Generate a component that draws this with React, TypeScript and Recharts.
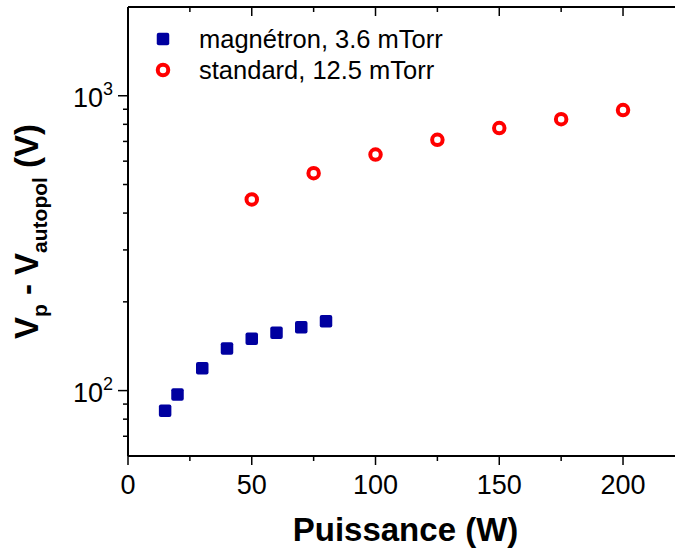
import { Legend, Scatter, ScatterChart, XAxis, YAxis } from "recharts"

const FONT = '"Liberation Sans", Arial, sans-serif'
const BLUE = "#0000A0"
const RED = "#FF0000"

// magnétron, 3.6 mTorr
const magnetronPower = [15, 20, 30, 40, 50, 60, 70, 80]
const magnetronVolts = [85.5, 97, 119, 139, 150, 157, 164, 172]

// standard, 12.5 mTorr
const standardPower = [50, 75, 100, 125, 150, 175, 200]
const standardVolts = [445, 546, 632, 709, 777, 833, 894]

const xTicks = [0, 25, 50, 75, 100, 125, 150, 175, 200]
const xLabelled = [0, 50, 100, 150, 200]
const yTicks = [70, 80, 90, 100, 200, 300, 400, 500, 600, 700, 800, 900, 1000]
const yExponents: Record<number, string> = { 100: "2", 1000: "3" }

const magnetronData = magnetronPower.map((p, i) => ({ power: p, v: magnetronVolts[i] }))
const standardData = standardPower.map((p, i) => ({ power: p, v: standardVolts[i] }))

function BottomTick({ x, y, payload }: any) {
  const major = xLabelled.includes(payload.value)
  return (
    <g>
      <line x1={x} x2={x} y1={y} y2={y + (major ? 9 : 5)} stroke="#000" strokeWidth={1.5} />
      {major && (
        <text x={x} y={y + 38} textAnchor="middle" fontSize={27} fontFamily={FONT} fill="#000">
          {payload.value}
        </text>
      )}
    </g>
  )
}

function TopTick({ x, y, payload }: any) {
  const major = xLabelled.includes(payload.value)
  return <line x1={x} x2={x} y1={y} y2={y + (major ? 9 : 5)} stroke="#000" strokeWidth={1.5} />
}

function LeftTick({ x, y, payload }: any) {
  const exp = yExponents[payload.value]
  return (
    <g>
      <line x1={x - (exp ? 10 : 5)} x2={x} y1={y} y2={y} stroke="#000" strokeWidth={1.5} />
      {exp && (
        <text x={x - 15} y={y + 11} textAnchor="end" fontSize={27} fontFamily={FONT} fill="#000">
          10
          <tspan fontSize={18} dy={-12}>{exp}</tspan>
        </text>
      )}
    </g>
  )
}

function Square({ cx, cy, fill }: any) {
  return <rect x={cx - 6.25} y={cy - 6.25} width={12.5} height={12.5} rx={2} fill={fill} />
}

function Ring({ cx, cy, stroke }: any) {
  return <circle cx={cx} cy={cy} r={5.25} fill="#fff" stroke={stroke} strokeWidth={4} />
}

function LegendBox({ payload }: any) {
  return (
    <svg width={675} height={100}>
      {(payload || []).map((entry: any, i: number) => {
        const cy = 39 + i * 31
        return (
          <g key={entry.value}>
            {entry.type === "square" ? (
              <Square cx={163} cy={cy} fill={entry.color} />
            ) : (
              <Ring cx={163} cy={cy} stroke={entry.color} />
            )}
            <text x={199} y={cy + 9} fontSize={25.5} fontFamily={FONT} fill="#000">
              {entry.value}
            </text>
          </g>
        )
      })}
    </svg>
  )
}

function YTitle({ viewBox }: any) {
  const cy = viewBox.y + viewBox.height / 2
  return (
    <text
      x={38}
      y={cy}
      transform={`rotate(-90, 38, ${cy})`}
      textAnchor="middle"
      fontSize={33}
      fontWeight="bold"
      fontFamily={FONT}
      fill="#000"
    >
      V<tspan fontSize={21} dy={9}>p</tspan>
      <tspan dy={-9}> - V</tspan>
      <tspan fontSize={21} dy={9}>autopol</tspan>
      <tspan dy={-9}> (V)</tspan>
    </text>
  )
}

function XTitle({ viewBox }: any) {
  return (
    <text
      x={viewBox.x + viewBox.width / 2 + 4}
      y={541}
      textAnchor="middle"
      fontSize={33}
      fontWeight="bold"
      fontFamily={FONT}
      fill="#000"
    >
      Puissance (W)
    </text>
  )
}

export default function App() {
  return (
    <div style={{ position: "absolute", left: 0, top: 0, background: "#fff" }}>
      <ScatterChart width={675} height={554} margin={{ top: 0, right: 0, bottom: 0, left: 0 }}>
        <XAxis
          xAxisId="bottom"
          type="number"
          dataKey="power"
          domain={[0, 221]}
          allowDataOverflow
          ticks={xTicks}
          interval={0}
          height={98}
          tickSize={0}
          tickMargin={0}
          tickLine={false}
          tick={<BottomTick />}
          axisLine={{ stroke: "#000", strokeWidth: 2 }}
          label={(props: any) => <XTitle {...props} />}
        />
        <XAxis
          xAxisId="top"
          orientation="top"
          type="number"
          dataKey="power"
          domain={[0, 221]}
          allowDataOverflow
          ticks={xTicks}
          interval={0}
          height={7}
          tickSize={0}
          tickMargin={0}
          tickLine={false}
          tick={<TopTick />}
          axisLine={{ stroke: "#000", strokeWidth: 2 }}
        />
        <YAxis
          type="number"
          dataKey="v"
          scale="log"
          domain={[60, 2000]}
          allowDataOverflow
          ticks={yTicks}
          interval={0}
          width={128}
          tickSize={0}
          tickMargin={0}
          tickLine={false}
          tick={<LeftTick />}
          axisLine={{ stroke: "#000", strokeWidth: 2 }}
          label={(props: any) => <YTitle {...props} />}
        />
        <Legend
          layout="vertical"
          align="center"
          verticalAlign="middle"
          wrapperStyle={{ top: 0, left: 0, width: 675, height: 100 }}
          content={<LegendBox />}
        />
        <Scatter
          name="magnétron, 3.6 mTorr"
          data={magnetronData}
          xAxisId="bottom"
          fill={BLUE}
          legendType="square"
          shape={<Square />}
          isAnimationActive={false}
        />
        <Scatter
          name="standard, 12.5 mTorr"
          data={standardData}
          xAxisId="bottom"
          fill={RED}
          stroke={RED}
          legendType="circle"
          shape={<Ring />}
          isAnimationActive={false}
        />
      </ScatterChart>
    </div>
  )
}
